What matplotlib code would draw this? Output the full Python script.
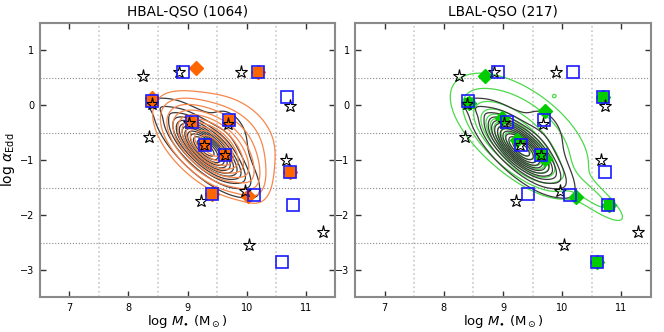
import numpy as np
import matplotlib
matplotlib.use("Agg")
import matplotlib.pyplot as plt
from matplotlib.ticker import MultipleLocator

# ---------------- data ----------------
titles = ["HBAL-QSO (1064)", "LBAL-QSO (217)"]

star_x = [8.25, 8.85, 9.90, 8.39, 8.35, 10.73, 9.02, 9.68, 9.28, 9.64, 10.66, 9.22, 9.97, 10.04, 11.29]
star_y = [0.54, 0.60, 0.60, 0.02, -0.57, -0.02, -0.32, -0.35, -0.72, -0.91, -1.00, -1.74, -1.57, -2.54, -2.31]

blue_x = [8.92, 10.19, 8.40, 10.69, 9.07, 9.70, 9.30, 9.64, 10.73, 9.42, 10.13, 10.78, 10.59]
blue_y = [0.60, 0.60, 0.07, 0.15, -0.30, -0.26, -0.72, -0.91, -1.22, -1.62, -1.64, -1.82, -2.86]

# HBAL (orange)
hb_dia_x = [9.15, 8.39, 10.19, 10.73, 9.42, 10.02]
hb_dia_y = [0.68, 0.14, 0.60, -1.22, -1.62, -1.65]
hb_sq_x = [10.19, 8.40, 9.07, 9.70, 9.30, 9.64, 10.73, 9.42]
hb_sq_y = [0.60, 0.07, -0.30, -0.27, -0.72, -0.91, -1.22, -1.62]

# LBAL (green)
lb_dia_x = [8.70, 8.43, 8.99, 9.71, 9.23, 9.71, 10.24, 10.69, 10.79, 10.59]
lb_dia_y = [0.54, 0.05, -0.23, -0.11, -0.63, -0.97, -1.67, 0.15, -1.82, -2.86]
lb_sq_x = [8.43, 10.69, 9.64, 10.79, 10.59]
lb_sq_y = [0.05, 0.15, -0.91, -1.82, -2.86]

# density-contour components: (mu_x, mu_y, sigma_major, sigma_minor, angle_deg, weight)
all_comp = [
    (9.30, -0.78, 0.46, 0.18, -46, 1.00),
    (9.70, -0.50, 0.35, 0.22, -65, 0.08),
    (9.90, -1.25, 0.28, 0.10, -55, 0.06),
    (8.55, -0.05, 0.18, 0.08, -30, 0.05),
]
hb_comp = [
    (9.38, -0.75, 0.52, 0.26, -45, 1.00),
    (9.70, -0.55, 0.55, 0.40, -40, 0.22),
    (10.05, -1.30, 0.30, 0.15, -70, 0.10),
]
lb_comp = [
    (9.25, -0.72, 0.45, 0.18, -45, 1.00),
    (9.30, -0.45, 0.75, 0.38, -40, 0.15),
    (10.50, -1.65, 0.45, 0.12, -40, 0.08),
    (9.87, 0.17, 0.025, 0.025, 0, 0.032),
]
black_levels = [0.04, 0.12, 0.2, 0.28, 0.36, 0.44, 0.52, 0.6, 0.68, 0.76, 0.84, 0.92]
hb_levels = [0.06, 0.12, 0.2, 0.3, 0.4, 0.5, 0.6, 0.7, 0.8, 0.9]
lb_levels = [0.025, 0.06, 0.14, 0.24, 0.34, 0.44, 0.54, 0.64, 0.74, 0.84]

xt = [7, 8, 9, 10, 11]
yt = [-3, -2, -1, 0, 1]


def density(X, Y, comps):
    Z = np.zeros_like(X)
    for mx, my, s1, s2, ang, w in comps:
        t = np.deg2rad(ang)
        dx, dy = X - mx, Y - my
        u = dx * np.cos(t) + dy * np.sin(t)
        v = -dx * np.sin(t) + dy * np.cos(t)
        Z += w * np.exp(-0.5 * ((u / s1) ** 2 + (v / s2) ** 2))
    return Z


gx = np.linspace(6.5, 11.5, 400)
gy = np.linspace(-3.5, 1.5, 400)
X, Y = np.meshgrid(gx, gy)
Zall = density(X, Y, all_comp)
Zall /= Zall.max()

fig = plt.figure(figsize=(6.64, 3.32), dpi=100)
ax1 = fig.add_axes([0.060, 0.104, 0.445, 0.827])
ax2 = fig.add_axes([0.535, 0.104, 0.445, 0.827])

panels = [
    (ax1, hb_comp, hb_levels, "#f7864a", "#ff6600", hb_dia_x, hb_dia_y, hb_sq_x, hb_sq_y, 3.5),
    (ax2, lb_comp, lb_levels, "#4cd94c", "#00cc00", lb_dia_x, lb_dia_y, lb_sq_x, lb_sq_y, 2.5),
]

for i, (ax, comp, lev, lcol, fcol, dx_, dy_, sx_, sy_, cz) in enumerate(panels):
    Zs = density(X, Y, comp)
    Zs /= Zs.max()
    ax.contour(X, Y, Zall, levels=black_levels, colors="#3a3a3a", linewidths=0.9, zorder=3)
    ax.contour(X, Y, Zs, levels=lev, colors=lcol, linewidths=0.9, zorder=cz)

    ax.plot(dx_, dy_, ls="none", marker="D", ms=7.2, mfc=fcol, mec=fcol, zorder=4)
    ax.plot(sx_, sy_, ls="none", marker="s", ms=7.0, mfc=fcol, mec=fcol, zorder=5)
    ax.plot(star_x, star_y, ls="none", marker="*", ms=9.5, mfc="none", mec="black", mew=0.8, zorder=6)
    ax.plot(blue_x, blue_y, ls="none", marker="s", ms=8.0, mfc="none", mec="#1a1aff", mew=1.2, zorder=7)

    ax.set_xlim(6.5, 11.5)
    ax.set_ylim(-3.5, 1.5)
    ax.set_xticks(xt)
    ax.set_yticks(yt)
    ax.xaxis.set_minor_locator(MultipleLocator(0.5))
    ax.yaxis.set_minor_locator(MultipleLocator(0.5))
    ax.tick_params(which="minor", length=0)
    ax.tick_params(which="major", direction="in", length=4, width=1.0, color="#333333",
                   top=True, right=True, labelsize=7, pad=4)
    ax.xaxis.grid(True, which="minor", color="#c8c8c8", ls=":", lw=1.2)
    ax.yaxis.grid(True, which="minor", color="#888888", ls=":", lw=0.8)
    for sp in ax.spines.values():
        sp.set_color("#8a8a8a")
        sp.set_linewidth(1.5)
    ax.set_title(titles[i], fontsize=9.8, pad=5)
    ax.set_xlabel(r"log $M_{\bullet}$ (M$_\odot$)", fontsize=9.5, labelpad=0)

ax1.set_ylabel(r"log $\alpha_{\rm Edd}$", fontsize=10, labelpad=2)

fig.savefig("out.png", dpi=100)
